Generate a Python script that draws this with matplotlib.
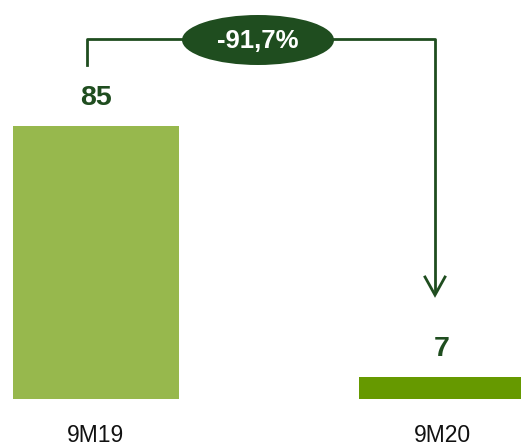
import matplotlib
matplotlib.use("Agg")
import matplotlib.pyplot as plt
from matplotlib.patches import Ellipse
from matplotlib import font_manager

categories = ["9M19", "9M20"]
values = [85, 7]
change_label = "-91,7%"
bar_colors = ["#97B84D", "#669900"]
dark_green = "#1F4D1F"

W, H = 521, 445
fig = plt.figure(figsize=(W / 100, H / 100), dpi=100)

names = {f.name for f in font_manager.fontManager.ttflist}
narrow = "Liberation Sans Narrow" if "Liberation Sans Narrow" in names else "Liberation Sans"

# axes: baseline at pixel row 399, 3.212 px per unit, category spacing 346 px
px_per_unit = 273 / 85
ax = fig.add_axes([0, (H - 399) / H, 1, 399 / H])
ax.set_ylim(0, 399 / px_per_unit)
ax.set_xlim(-96 / 346, (W - 96) / 346)
ax.axis("off")

x = list(range(len(categories)))
ax.bar(x, values, width=166 / 346, color=bar_colors, zorder=2)

for xi, v, c in zip(x, values, categories):
    ax.text(xi, v + 28 / px_per_unit, str(v), ha="center", va="center",
            fontsize=20.5, fontweight="bold", color=dark_green, family=[narrow, "DejaVu Sans"])
    ax.text(xi, -36 / px_per_unit, c, ha="center", va="center",
            fontsize=16.5, color="#111111", family=["Liberation Sans", "DejaVu Sans"],
            clip_on=False)

# connector arrow in pixel coordinates
def fx(px):
    return px / W

def fy(py):
    return 1 - py / H

fig.add_artist(plt.Line2D([fx(87), fx(87), fx(435), fx(435)],
                          [fy(65), fy(39), fy(39), fy(292)],
                          color=dark_green, lw=2, transform=fig.transFigure))
fig.add_artist(plt.Line2D([fx(425), fx(435), fx(445)],
                          [fy(277), fy(295), fy(277)],
                          color=dark_green, lw=2, transform=fig.transFigure,
                          solid_joinstyle="miter"))

ell = Ellipse((fx(258), fy(40)), 152 / W, 50 / H, transform=fig.transFigure,
              facecolor=dark_green, edgecolor="none", zorder=5)
fig.add_artist(ell)
fig.text(fx(258), fy(41), change_label, ha="center", va="center", color="white",
         fontsize=18.5, fontweight="bold", family=[narrow, "DejaVu Sans"], zorder=6)

fig.savefig("out.png", dpi=100)
